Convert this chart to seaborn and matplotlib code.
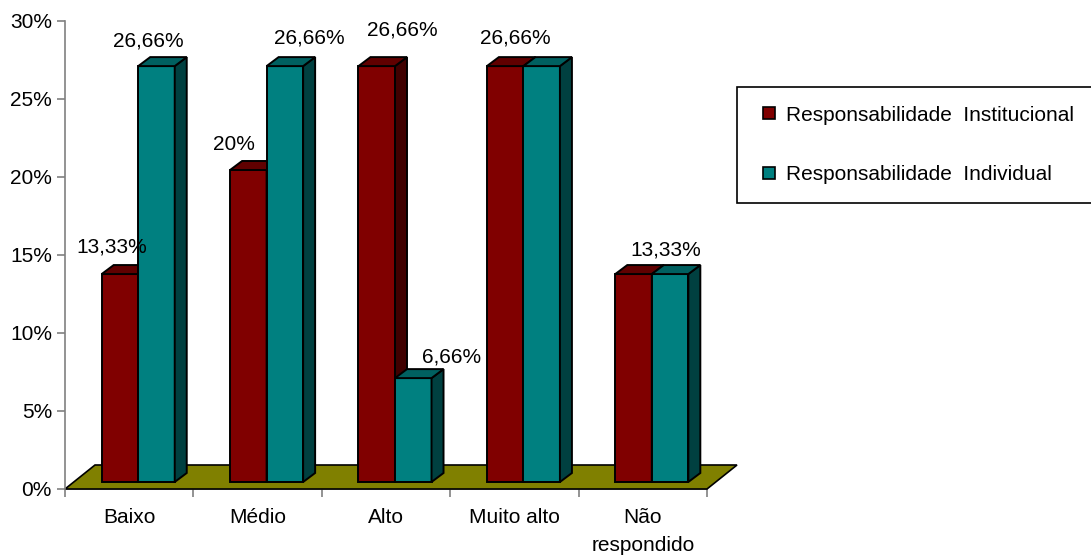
import matplotlib
matplotlib.use("Agg")
import matplotlib.pyplot as plt
from matplotlib.patches import Polygon
from matplotlib.lines import Line2D
import seaborn as sns
import pandas as pd

# ---- data -------------------------------------------------------------
categorias = ["Baixo", "Médio", "Alto", "Muito alto", "Não\nrespondido"]
series = ["Responsabilidade  Institucional", "Responsabilidade  Individual"]
institucional = [13.33, 20, 26.66, 26.66, 13.33]
individual = [26.66, 26.66, 6.66, 26.66, 13.33]
y_ticks = [0, 5, 10, 15, 20, 25, 30]
y_tick_labels = ["0%", "5%", "10%", "15%", "20%", "25%", "30%"]

# ---- styling ----------------------------------------------------------
front_colors = ["#800000", "#008080"]
side_colors = ["#400000", "#004040"]
top_colors = ["#600000", "#006060"]
floor_color = "#808000"
axis_gray = "#808080"

# value-label offsets (pixels, relative to the top-centre of each bar front);
# None means the value label is not drawn for that bar
label_offsets = [
    [(-8, -27), (-14, -25), (26, -36), (10, -28), None],
    [(-8, -25), (24, -28), (38, -21), None, (-4, -24)],
]

sns.set_theme(style="white")
plt.rcParams["font.family"] = ["Liberation Sans", "DejaVu Sans"]
plt.rcParams["text.color"] = "black"
plt.rcParams["xtick.labelcolor"] = "black"
plt.rcParams["ytick.labelcolor"] = "black"
FS = 15
EDGE_LW = 1.4

W, H, DPI = 1091, 556, 100
fig = plt.figure(figsize=(W / DPI, H / DPI), dpi=DPI)
# axis box: x from 65 px to 707 px, y from 489 px (0%) to 21 px (30%)
ax = fig.add_axes([65 / W, (H - 489) / H, 642 / W, 468 / H])

df = pd.DataFrame({
    "Nível": categorias * 2,
    "Série": [series[0]] * len(categorias) + [series[1]] * len(categorias),
    "Valor": institucional + individual,
})

bar_width = 0.569
sns.barplot(data=df, x="Nível", y="Valor", hue="Série", order=categorias,
            hue_order=series, palette=front_colors, width=bar_width,
            edgecolor="black", linewidth=EDGE_LW, saturation=1, legend=False, ax=ax)

ax.set_xlim(-0.5, 4.5)
ax.set_ylim(0, 30)

# pixel -> data conversions
px_x = 5 / 642.0     # data units per pixel horizontally
px_y = 30 / 468.0    # data units per pixel vertically

shift_x = 9 * px_x           # bars sit a little inside the floor
base_y = 7 * px_y
depth_x = 12 * px_x          # 3-D depth of each bar
depth_y = 9 * px_y
floor_dx = 30 * px_x
floor_dy = 24 * px_y

# floor
floor = Polygon([(-0.5, 0), (4.5, 0), (4.5 + floor_dx, floor_dy), (-0.5 + floor_dx, floor_dy)],
                closed=True, facecolor=floor_color, edgecolor="black", linewidth=1.2,
                zorder=1, clip_on=False)
ax.add_patch(floor)

values = [institucional, individual]
for s, cont in enumerate(ax.containers):
    z = 3 + s
    for j, rect in enumerate(cont.patches):
        v = values[s][j]
        rect.set_x(rect.get_x() + shift_x)
        rect.set_y(base_y)
        rect.set_height(v)
        rect.set_zorder(z)
        x0, w = rect.get_x(), rect.get_width()
        top = base_y + v
        side = Polygon([(x0 + w, base_y), (x0 + w + depth_x, base_y + depth_y),
                        (x0 + w + depth_x, top + depth_y), (x0 + w, top)],
                       closed=True, facecolor=side_colors[s], edgecolor="black",
                       linewidth=EDGE_LW, zorder=z, clip_on=False)
        cap = Polygon([(x0, top), (x0 + w, top), (x0 + w + depth_x, top + depth_y),
                       (x0 + depth_x, top + depth_y)],
                      closed=True, facecolor=top_colors[s], edgecolor="black",
                      linewidth=EDGE_LW, zorder=z, clip_on=False)
        ax.add_patch(side)
        ax.add_patch(cap)
        off = label_offsets[s][j]
        if off is not None:
            txt = f"{v:g}".replace(".", ",") + "%"
            ax.annotate(txt, xy=(x0 + w / 2, top), xytext=(off[0] * 0.72, -off[1] * 0.72),
                        textcoords="offset points", ha="center", va="center",
                        fontsize=FS, color="black", zorder=10)

# axes styling
for sp in ["top", "right"]:
    ax.spines[sp].set_visible(False)
ax.spines["left"].set_color(axis_gray)
ax.spines["bottom"].set_color(axis_gray)
ax.spines["left"].set_linewidth(1.2)
ax.spines["bottom"].set_linewidth(1.2)
ax.spines["bottom"].set_zorder(0)

ax.set_yticks(y_ticks)
ax.set_yticklabels(y_tick_labels)
ax.tick_params(axis="y", direction="out", length=5.8, width=1.2, color=axis_gray,
               pad=3.6, labelsize=FS, left=True, labelcolor="black")

ax.set_xticks(range(len(categorias)))
ax.set_xticklabels(categorias, linespacing=1.6)
ax.set_xticks([i - 0.5 for i in range(len(categorias) + 1)], minor=True)
ax.tick_params(axis="x", which="major", length=0, pad=14, labelsize=FS, labelcolor="black")
ax.tick_params(axis="x", which="minor", direction="out", length=5.8, width=1.2,
               color=axis_gray, bottom=True)
for lab in ax.get_xticklabels():
    lab.set_verticalalignment("top")

ax.set_xlabel("")
ax.set_ylabel("")
ax.grid(False)

# legend
handles = [Line2D([0], [0], marker="s", linestyle="none", markersize=8,
                  markerfacecolor=c, markeredgecolor="black", markeredgewidth=1.2)
           for c in front_colors]
leg = fig.legend(handles, series, loc="upper left",
                 bbox_to_anchor=(737 / W, 1 - 87 / H), bbox_transform=fig.transFigure,
                 fontsize=FS, frameon=True, fancybox=False, shadow=False,
                 borderpad=0.9, labelspacing=1.95, handlelength=1.3,
                 handletextpad=0.15, borderaxespad=0)
for t in leg.get_texts():
    t.set_color("black")
leg.get_frame().set_edgecolor("black")
leg.get_frame().set_linewidth(1.2)
leg.get_frame().set_facecolor("white")
leg.get_frame().set_alpha(1)

fig.savefig("out.png", dpi=DPI)
